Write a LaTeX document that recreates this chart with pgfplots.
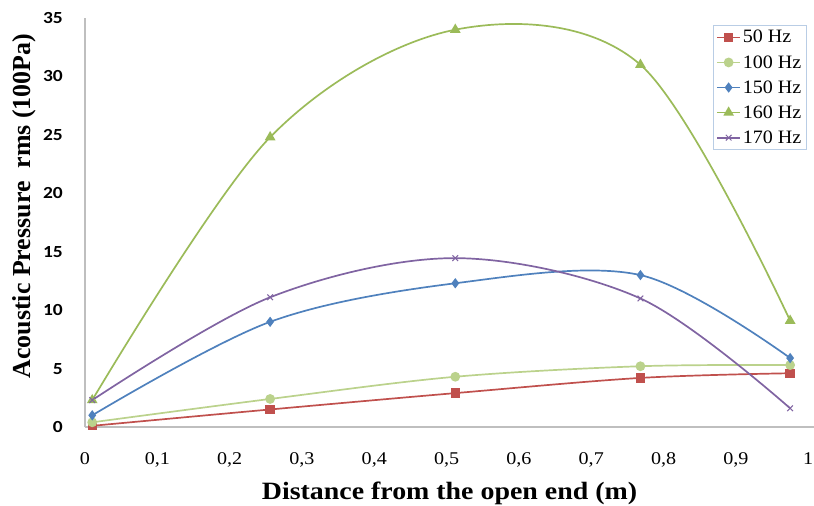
\documentclass[border=0pt]{standalone}
\usepackage{pgfplots}
\pgfplotsset{compat=1.18}
\usepackage{fontspec}
\setmainfont{Liberation Serif}
\newfontfamily\tnr[FakeStretch=1.12]{Liberation Serif}
\newfontfamily\tnrl[FakeStretch=1.06]{Liberation Serif}
\newfontfamily\carl[FakeStretch=1.15]{Carlito}
\definecolor{cA}{RGB}{192,80,77}
\definecolor{cB}{RGB}{187,210,140}
\definecolor{cC}{RGB}{79,129,189}
\definecolor{cD}{RGB}{155,187,89}
\definecolor{cE}{RGB}{128,100,162}
\definecolor{axgray}{RGB}{191,191,191}
\definecolor{legbox}{RGB}{185,205,229}
\begin{document}
\begin{tikzpicture}
\path[use as bounding box] (-85bp,-79bp) rectangle (729bp,427bp);
\begin{axis}[
  scale only axis,
  width=729bp, height=409bp,
  xmin=0, xmax=1.008, ymin=0, ymax=35,
  axis x line=bottom, axis y line=left,
  axis line style={draw=axgray, line width=1.2bp, -},
  xtick={0,0.1,0.2,0.3,0.4,0.5,0.6,0.7,0.8,0.9,1},
  xticklabels={0,{0,1},{0,2},{0,3},{0,4},{0,5},{0,6},{0,7},{0,8},{0,9},1},
  ytick={0,5,10,15,20,25,30,35},
  yticklabels={0,5,10,15,20,25,30,35},
  major tick length=0pt,
  xticklabel style={font=\tnr\fontsize{18}{18}\selectfont, inner sep=0pt, anchor=north, yshift=-25bp},
  yticklabel style={font=\carl\bfseries\fontsize{17}{17}\selectfont, inner sep=0pt, anchor=east, xshift=-22bp},
  xlabel={\bfseries Distance from the open end (m)},
  ylabel={\bfseries Acoustic Pressure\ \ rms (100Pa)},
  xlabel style={font=\tnr\fontsize{25}{25}\selectfont, at={(axis description cs:0.5,0)}, anchor=center, yshift=-66bp},
  ylabel style={font=\fontsize{26}{26}\selectfont, at={(axis description cs:0,0.54)}, anchor=center, yshift=61bp},
  legend style={at={(axis description cs:0.99,0.983)}, anchor=north east, draw=legbox, line width=0.8bp,
    font=\tnrl\fontsize{19}{20}\selectfont, row sep=7bp, inner sep=3bp,
    cells={anchor=west}},
  legend image code/.code={\draw[mark repeat=2,mark phase=2] plot coordinates {(0cm,0cm) (0.4cm,0cm) (0.8cm,0cm)};},
  every axis plot/.append style={line width=1.7bp, smooth, tension=0.55},
]
\addplot[color=cA, mark=square*, mark size=3.8bp, mark options={solid}] coordinates {
(0.01,0.1) (0.256,1.5) (0.512,2.9) (0.768,4.2) (0.975,4.6)};
\addlegendentry{50 Hz}
\addplot[color=cB, mark=*, mark size=4bp] coordinates {
(0.01,0.4) (0.256,2.4) (0.512,4.3) (0.768,5.2) (0.975,5.3)};
\addlegendentry{100 Hz}
\addplot[color=cC, mark=diamond*, mark size=3.8bp] coordinates {
(0.01,1.0) (0.256,9.0) (0.512,12.3) (0.768,13.0) (0.975,5.9)};
\addlegendentry{150 Hz}
\addplot[color=cD, mark=triangle*, mark size=4.5bp] coordinates {
(0.01,2.3) (0.256,24.8) (0.512,34.0) (0.768,31.0) (0.975,9.1)};
\addlegendentry{160 Hz}
\addplot[color=cE, mark=x, mark size=4bp, mark options={line width=1bp}] coordinates {
(0.01,2.3) (0.256,11.1) (0.512,14.45) (0.768,11.0) (0.975,1.6)};
\addlegendentry{170 Hz}
\end{axis}
\end{tikzpicture}
\end{document}
